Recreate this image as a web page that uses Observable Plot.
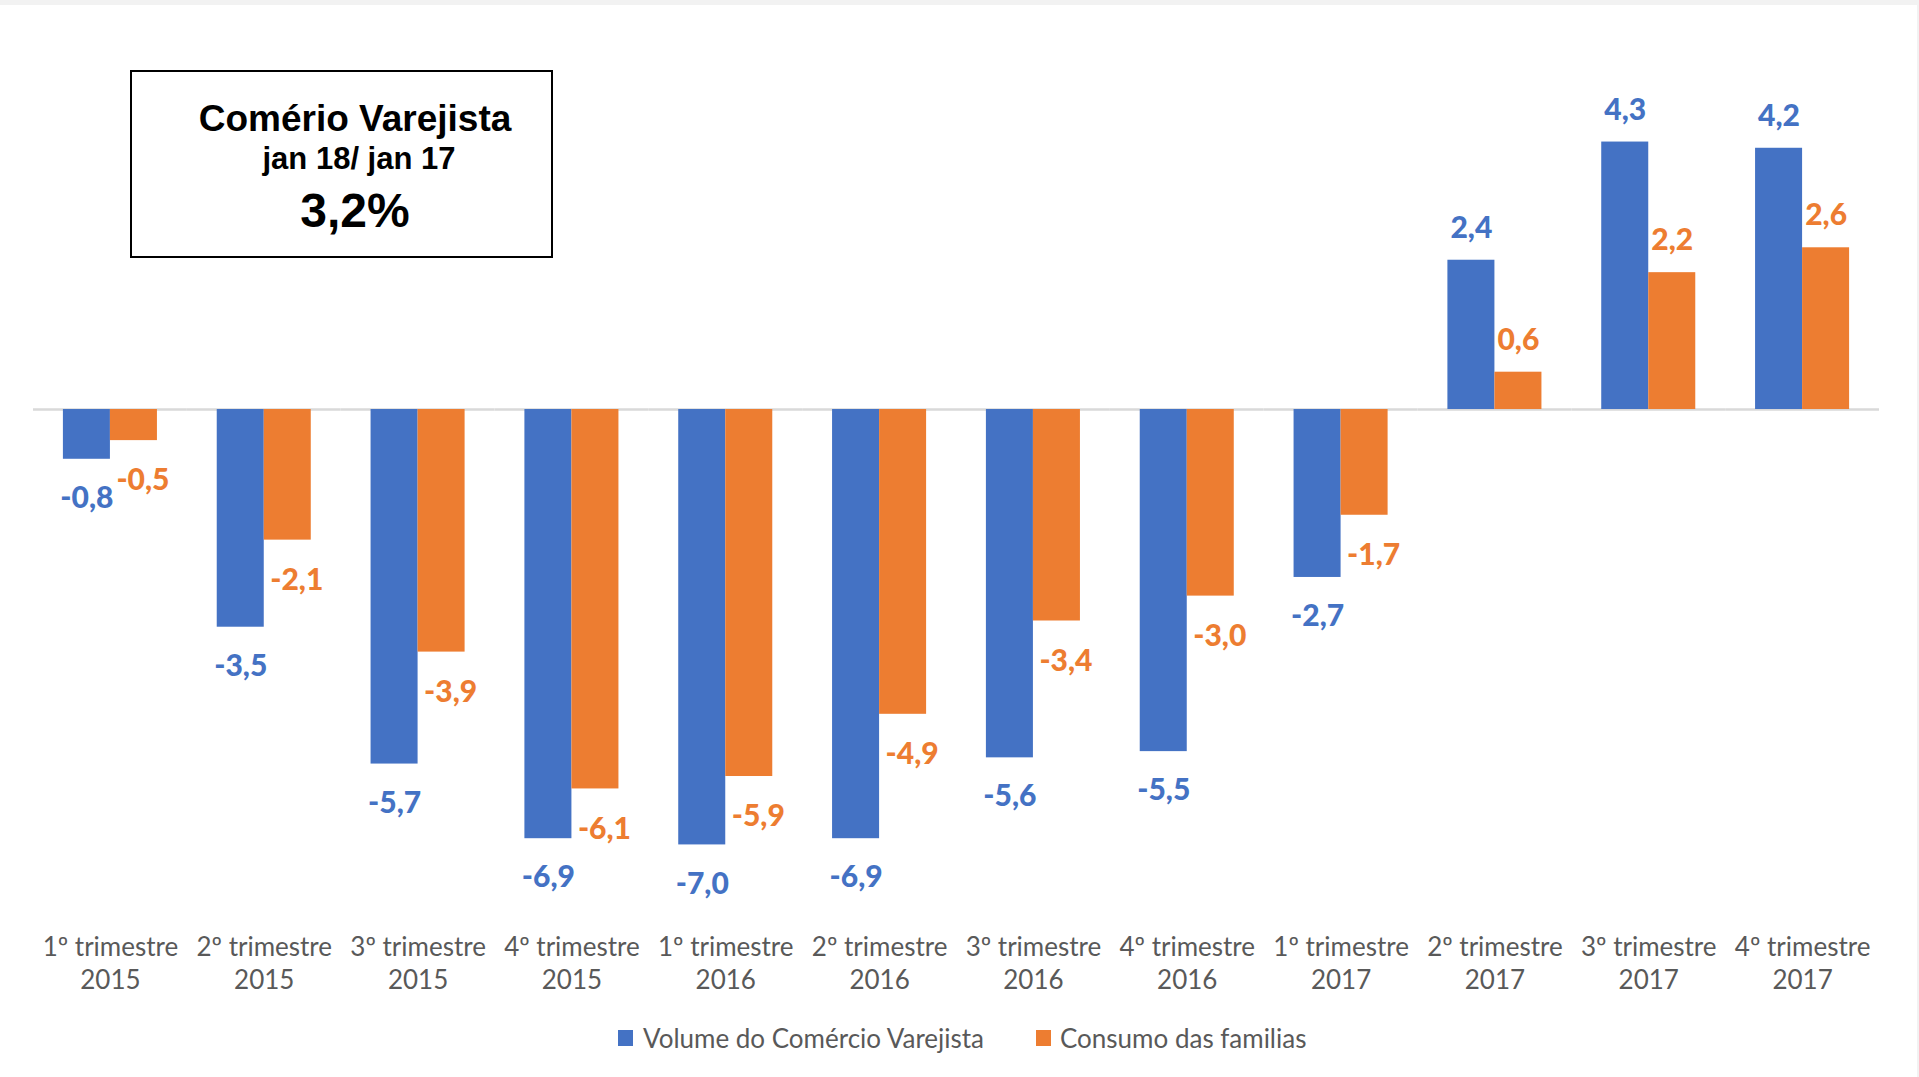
<!DOCTYPE html>
<html>
<head>
<meta charset="utf-8">
<script src="https://cdn.jsdelivr.net/npm/d3@7"></script>
<script src="https://cdn.jsdelivr.net/npm/@observablehq/plot@0.6"></script>
<style>
  body { margin: 0; background: #fff; font-family: Lato, "Open Sans", sans-serif; }
  #wrap { position: relative; width: 1919px; height: 1077px; overflow: hidden; background: #fff; }
  #legend { position: absolute; left: 0; top: 1000px; width: 1919px; height: 77px; }
  .sw { position: absolute; width: 15px; height: 16px; top: 30px; }
  .lt { position: absolute; top: 24px; font-size: 26px; line-height: 28px; color: #595959; white-space: nowrap; }
  #box { position: absolute; left: 0; top: 0; }
  .bandTop { position: absolute; left: 0; top: 0; width: 1919px; height: 5px; background: #f2f2f2; }
  .bandRight { position: absolute; right: 0; top: 0; width: 2px; height: 1077px; background: #f2f2f2; }
</style>
</head>
<body>
<div id="wrap">
  <div id="chart"></div>
  <div id="legend"></div>
  <svg id="box" width="700" height="300"></svg>
  <div class="bandTop"></div>
  <div class="bandRight"></div>
</div>
<script>
// ---- data ----
const quarters = ["1º trimestre","2º trimestre","3º trimestre","4º trimestre",
                  "1º trimestre","2º trimestre","3º trimestre","4º trimestre",
                  "1º trimestre","2º trimestre","3º trimestre","4º trimestre"];
const years = ["2015","2015","2015","2015","2016","2016","2016","2016","2017","2017","2017","2017"];
const seriesNames = ["Volume do Comércio Varejista", "Consumo das familias"];
const seriesColors = ["#4472C4", "#ED7D31"];
const volume  = [-0.8, -3.5, -5.7, -6.9, -7.0, -6.9, -5.6, -5.5, -2.7, 2.4, 4.3, 4.2];
const consumo = [-0.5, -2.1, -3.9, -6.1, -5.9, -4.9, -3.4, -3.0, -1.7, 0.6, 2.2, 2.6];
const boxTitle = "Comério Varejista";
const boxSub = "jan 18/ jan 17";
const boxValue = "3,2%";

// ---- build table ----
const categories = quarters.map((q, i) => q + "\n" + years[i]);
const data = [];
categories.forEach((c, i) => {
  data.push({cat: c, series: seriesNames[0], value: volume[i]});
  data.push({cat: c, series: seriesNames[1], value: consumo[i]});
});
const fmt = v => v.toFixed(1).replace(".", ",");

const pos = data.filter(d => d.value >= 0);
const negBlue = data.filter(d => d.value < 0 && d.series === seriesNames[0]);
const negOrange = data.filter(d => d.value < 0 && d.series === seriesNames[1]);

const labelOpts = {
  fx: "cat", x: "series", y: "value", text: d => fmt(d.value),
  fill: "series", fontWeight: 900, fontSize: 30, fontFamily: "Lato"
};

const chart = Plot.plot({
  width: 1919,
  height: 1000,
  marginTop: 60,
  marginBottom: 80,
  marginLeft: 33,
  marginRight: 40,
  style: { fontFamily: "Lato", background: "transparent", overflow: "visible" },
  fx: { domain: categories, padding: 0, round: false },
  x: { domain: seriesNames, paddingInner: 0, paddingOuter: 0.636, round: false, axis: null },
  y: { domain: [-8.215, 5.611], axis: null },
  color: { domain: seriesNames, range: seriesColors },
  marks: [
    Plot.axisFx({ anchor: "bottom", label: null, tickSize: 0, tickPadding: 11,
                  fontSize: 26, lineHeight: 1.3, fill: "#595959", tickFormat: d => d }),
    Plot.ruleY([0], { stroke: "#D9D9D9", strokeWidth: 2.5 }),
    Plot.barY(data, { fx: "cat", x: "series", y: "value", fill: "series" }),
    Plot.text(pos, { ...labelOpts, dy: -32 }),
    Plot.text(negBlue, { ...labelOpts, dy: 39 }),
    Plot.text(negOrange, { ...labelOpts, dy: 40, dx: 9 })
  ]
});
document.getElementById("chart").appendChild(chart);

// ---- annotation box ----
const box = d3.select("#box");
box.append("rect").attr("x", 131).attr("y", 71).attr("width", 421).attr("height", 186)
  .attr("fill", "white").attr("stroke", "black").attr("stroke-width", 2);
const tf = "'Liberation Sans', Arial, sans-serif";
box.append("text").attr("x", 355).attr("y", 131).attr("text-anchor", "middle")
  .attr("font-family", tf).attr("font-weight", "bold").attr("font-size", 37).text(boxTitle);
box.append("text").attr("x", 359).attr("y", 169).attr("text-anchor", "middle")
  .attr("font-family", tf).attr("font-weight", "bold").attr("font-size", 31).text(boxSub);
box.append("text").attr("x", 355).attr("y", 227).attr("text-anchor", "middle")
  .attr("font-family", tf).attr("font-weight", "bold").attr("font-size", 48).text(boxValue);

// ---- legend ----
const legend = document.getElementById("legend");
const legX = [[618, 643], [1036, 1060]];
seriesNames.forEach((s, i) => {
  const sw = document.createElement("div");
  sw.className = "sw"; sw.style.left = legX[i][0] + "px"; sw.style.background = seriesColors[i];
  legend.appendChild(sw);
  const t = document.createElement("div");
  t.className = "lt"; t.style.left = legX[i][1] + "px"; t.textContent = s;
  legend.appendChild(t);
});
</script>
</body>
</html>
